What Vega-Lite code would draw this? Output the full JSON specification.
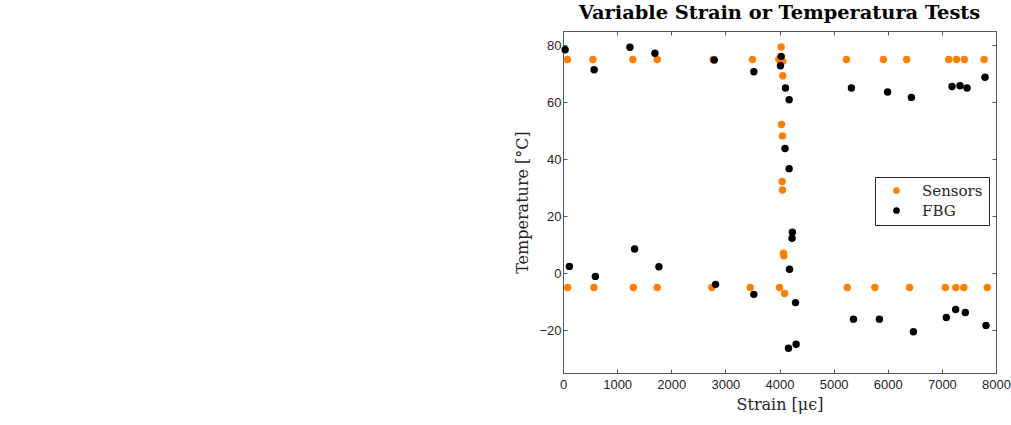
{
  "$schema": "https://vega.github.io/schema/vega-lite/v6.json",
  "width": 433,
  "height": 342,
  "autosize": {"type": "none"},
  "padding": {"left": 563, "top": 31, "right": 15, "bottom": 52},
  "background": "white",
  "title": {
    "text": "Variable Strain or Temperatura Tests",
    "font": "DejaVu Serif",
    "fontSize": 19.4,
    "fontWeight": "bold",
    "color": "black",
    "anchor": "middle",
    "offset": 7
  },
  "config": {
    "view": {"stroke": "#555555", "strokeWidth": 1},
    "axis": {
      "grid": false,
      "domainColor": "#555555",
      "tickColor": "#555555",
      "tickSize": -4,
      "labelFont": "Liberation Sans",
      "labelFontSize": 13,
      "labelColor": "#262626",
      "labelFlush": false,
      "labelOverlap": false,
      "titleFont": "DejaVu Serif",
      "titleFontSize": 16,
      "titleFontWeight": "normal",
      "titleColor": "#262626"
    },
    "legend": {
      "orient": "none",
      "legendX": 312,
      "legendY": 146,
      "strokeColor": "#262626",
      "fillColor": "white",
      "padding": 6,
      "symbolType": "circle",
      "symbolSize": 45,
      "symbolStrokeWidth": 0,
      "symbolOffset": 8,
      "labelFont": "DejaVu Serif",
      "labelFontSize": 15,
      "labelColor": "#262626",
      "labelOffset": 18,
      "rowPadding": 4
    }
  },
  "data": {
    "values": [
      {"strain": 81, "temp": 75, "series": "Sensors"},
      {"strain": 554, "temp": 75, "series": "Sensors"},
      {"strain": 1292, "temp": 75, "series": "Sensors"},
      {"strain": 1742, "temp": 75, "series": "Sensors"},
      {"strain": 2775, "temp": 75, "series": "Sensors"},
      {"strain": 3502, "temp": 75, "series": "Sensors"},
      {"strain": 3988, "temp": 75, "series": "Sensors"},
      {"strain": 5237, "temp": 75, "series": "Sensors"},
      {"strain": 5920, "temp": 75, "series": "Sensors"},
      {"strain": 6350, "temp": 75, "series": "Sensors"},
      {"strain": 7128, "temp": 75, "series": "Sensors"},
      {"strain": 7270, "temp": 75, "series": "Sensors"},
      {"strain": 7415, "temp": 75, "series": "Sensors"},
      {"strain": 7780, "temp": 75, "series": "Sensors"},
      {"strain": 4031, "temp": 79.4, "series": "Sensors"},
      {"strain": 4060, "temp": 74.4, "series": "Sensors"},
      {"strain": 4060, "temp": 69.3, "series": "Sensors"},
      {"strain": 4037, "temp": 52.2, "series": "Sensors"},
      {"strain": 4055, "temp": 48.2, "series": "Sensors"},
      {"strain": 4049, "temp": 32.2, "series": "Sensors"},
      {"strain": 4055, "temp": 29.2, "series": "Sensors"},
      {"strain": 4072, "temp": 7.0, "series": "Sensors"},
      {"strain": 4080, "temp": 6.1, "series": "Sensors"},
      {"strain": 4094, "temp": -7.1, "series": "Sensors"},
      {"strain": 85, "temp": -5, "series": "Sensors"},
      {"strain": 572, "temp": -5, "series": "Sensors"},
      {"strain": 1300, "temp": -5, "series": "Sensors"},
      {"strain": 1740, "temp": -5, "series": "Sensors"},
      {"strain": 2750, "temp": -5, "series": "Sensors"},
      {"strain": 3459, "temp": -5, "series": "Sensors"},
      {"strain": 4000, "temp": -5, "series": "Sensors"},
      {"strain": 5252, "temp": -5, "series": "Sensors"},
      {"strain": 5762, "temp": -5, "series": "Sensors"},
      {"strain": 6403, "temp": -5, "series": "Sensors"},
      {"strain": 7065, "temp": -5, "series": "Sensors"},
      {"strain": 7258, "temp": -5, "series": "Sensors"},
      {"strain": 7405, "temp": -5, "series": "Sensors"},
      {"strain": 7840, "temp": -5, "series": "Sensors"},
      {"strain": 40, "temp": 78.4, "series": "FBG"},
      {"strain": 575, "temp": 71.4, "series": "FBG"},
      {"strain": 1237, "temp": 79.3, "series": "FBG"},
      {"strain": 1698, "temp": 77.2, "series": "FBG"},
      {"strain": 2794, "temp": 74.8, "series": "FBG"},
      {"strain": 3526, "temp": 70.7, "series": "FBG"},
      {"strain": 4031, "temp": 76.1, "series": "FBG"},
      {"strain": 4018, "temp": 72.8, "series": "FBG"},
      {"strain": 4111, "temp": 65.0, "series": "FBG"},
      {"strain": 4178, "temp": 60.9, "series": "FBG"},
      {"strain": 4102, "temp": 43.8, "series": "FBG"},
      {"strain": 4178, "temp": 36.7, "series": "FBG"},
      {"strain": 4238, "temp": 14.4, "series": "FBG"},
      {"strain": 4232, "temp": 12.3, "series": "FBG"},
      {"strain": 4185, "temp": 1.4, "series": "FBG"},
      {"strain": 5329, "temp": 65.0, "series": "FBG"},
      {"strain": 5997, "temp": 63.6, "series": "FBG"},
      {"strain": 6437, "temp": 61.7, "series": "FBG"},
      {"strain": 7188, "temp": 65.5, "series": "FBG"},
      {"strain": 7336, "temp": 65.8, "series": "FBG"},
      {"strain": 7465, "temp": 65.0, "series": "FBG"},
      {"strain": 7797, "temp": 68.8, "series": "FBG"},
      {"strain": 118, "temp": 2.4, "series": "FBG"},
      {"strain": 598, "temp": -1.1, "series": "FBG"},
      {"strain": 1323, "temp": 8.5, "series": "FBG"},
      {"strain": 1772, "temp": 2.3, "series": "FBG"},
      {"strain": 2819, "temp": -3.9, "series": "FBG"},
      {"strain": 3526, "temp": -7.4, "series": "FBG"},
      {"strain": 4296, "temp": -10.3, "series": "FBG"},
      {"strain": 4166, "temp": -26.3, "series": "FBG"},
      {"strain": 4308, "temp": -24.9, "series": "FBG"},
      {"strain": 5366, "temp": -16.1, "series": "FBG"},
      {"strain": 5846, "temp": -16.1, "series": "FBG"},
      {"strain": 6474, "temp": -20.5, "series": "FBG"},
      {"strain": 7082, "temp": -15.5, "series": "FBG"},
      {"strain": 7254, "temp": -12.7, "series": "FBG"},
      {"strain": 7433, "temp": -13.8, "series": "FBG"},
      {"strain": 7815, "temp": -18.3, "series": "FBG"}
    ]
  },
  "resolve": {"axis": {"x": "independent", "y": "independent"}},
  "layer": [
    {
      "mark": {"type": "point", "filled": true, "opacity": 1, "size": 55},
      "encoding": {
        "x": {
          "field": "strain",
          "type": "quantitative",
          "scale": {"domain": [0, 8000], "nice": false, "zero": false},
          "axis": {"orient": "bottom", "values": [0, 1000, 2000, 3000, 4000, 5000, 6000, 7000, 8000], "format": "d", "labelPadding": 9, "title": "Strain [μϵ]", "titlePadding": 5}
        },
        "y": {
          "field": "temp",
          "type": "quantitative",
          "scale": {"domain": [-35, 85], "nice": false, "zero": false},
          "axis": {"orient": "left", "values": [-20, 0, 20, 40, 60, 80], "format": "d", "labelPadding": 6, "title": "Temperature [°C]", "titlePadding": 8}
        },
        "color": {
          "field": "series",
          "type": "nominal",
          "scale": {"domain": ["Sensors", "FBG"], "range": ["#ff8000", "#000000"]},
          "legend": {"title": null}
        }
      }
    },
    {
      "mark": {"type": "point", "opacity": 0},
      "encoding": {
        "x": {
          "field": "strain",
          "type": "quantitative",
          "axis": {"orient": "top", "values": [0, 1000, 2000, 3000, 4000, 5000, 6000, 7000, 8000], "labels": false, "title": null}
        },
        "y": {
          "field": "temp",
          "type": "quantitative",
          "axis": {"orient": "right", "values": [-20, 0, 20, 40, 60, 80], "labels": false, "title": null}
        }
      }
    }
  ]
}
